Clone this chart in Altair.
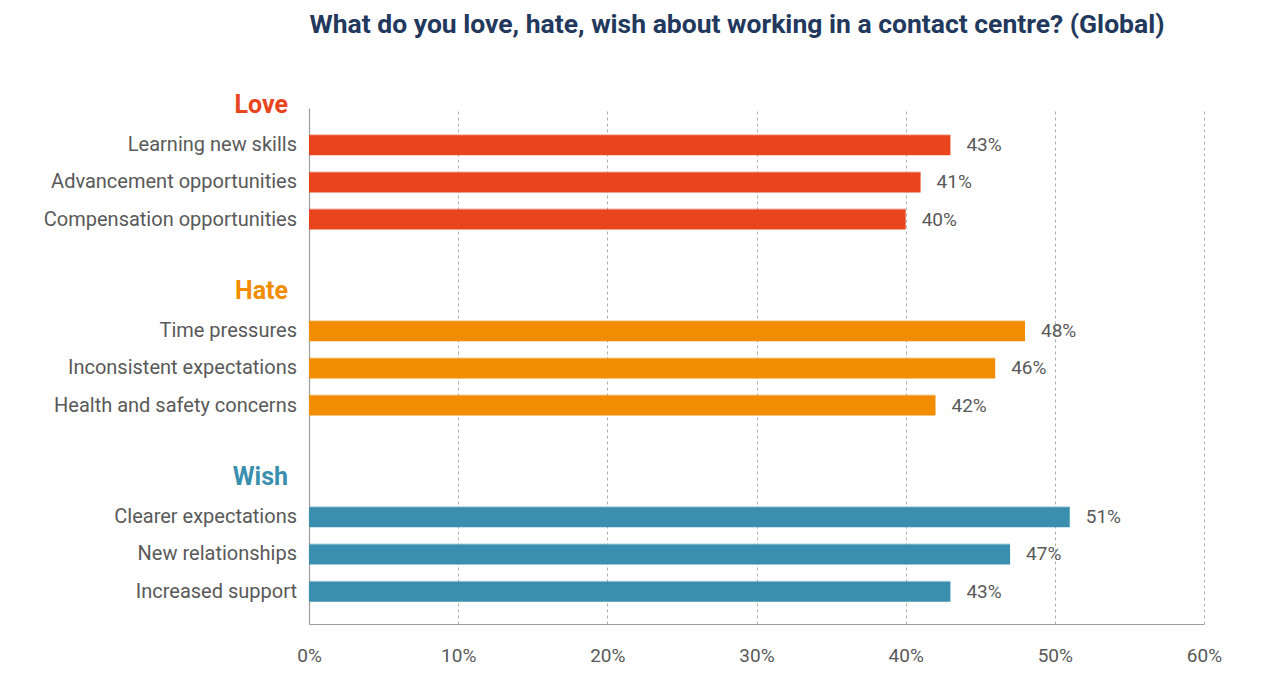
import altair as alt
import pandas as pd

# Survey answers per group (share of respondents)
groups = ["Love", "Hate", "Wish"]
group_colors = ["#e8441e", "#f28c00", "#3b8fae"]
love_items = ["Learning new skills", "Advancement opportunities", "Compensation opportunities"]
love_values = [43, 41, 40]
hate_items = ["Time pressures", "Inconsistent expectations", "Health and safety concerns"]
hate_values = [48, 46, 42]
wish_items = ["Clearer expectations", "New relationships", "Increased support"]
wish_values = [51, 47, 43]
x_ticks = [0, 10, 20, 30, 40, 50, 60]

TITLE = "What do you love, hate, wish about working in a contact centre? (Global)"
FONT = "Roboto"
GREY = "#595959"

# Build row layout: header row, three item rows, then a blank spacer row
item_rows, header_rows = [], []
row = 0
for g, color, items, vals in zip(
    groups, group_colors,
    [love_items, hate_items, wish_items],
    [love_values, hate_values, wish_values],
):
    header_rows.append({"group": g, "row": row, "color": color})
    row += 1
    for it, v in zip(items, vals):
        item_rows.append({"group": g, "item": it, "value": v / 100,
                          "label": f"{v}%", "row": row, "color": color})
        row += 1
    row += 1

items_df = pd.DataFrame(item_rows)
headers_df = pd.DataFrame(header_rows)

W, H = 895, 516
y_scale = alt.Scale(domain=[0, 13.87], reverse=True, nice=False, zero=False, padding=0)
x_scale = alt.Scale(domain=[0, 0.6], nice=False)

y_enc = alt.Y("row:Q", scale=y_scale,
              axis=alt.Axis(labels=False, ticks=False, grid=False, title=None,
                            domainColor="#9e9e9e", domainWidth=1.2))
x_enc = alt.X("value:Q", scale=x_scale,
              axis=alt.Axis(values=[t / 100 for t in x_ticks], format=".0%",
                            title=None, ticks=False, grid=True,
                            gridDash=[3, 3], gridColor="#b0b0b0", gridWidth=1,
                            domainColor="#9e9e9e", domainWidth=1.2,
                            labelFont=FONT, labelFontSize=19, labelColor=GREY,
                            labelPadding=22, labelFlush=False))

base = alt.Chart(items_df)

bars = base.mark_bar(orient="horizontal", size=20).encode(
    x=x_enc, x2=alt.datum(0), y=y_enc,
    color=alt.Color("color:N", scale=None),
)

# light streak along the top edge of each stroke
streak = base.mark_bar(orient="horizontal", size=2, yOffset=-10, opacity=0.4).encode(
    x="value:Q", x2=alt.datum(0), y="row:Q",
    color=alt.Color("color:N", scale=None),
)

values = base.mark_text(align="left", baseline="middle", dx=16,
                        font=FONT, fontSize=19, color=GREY).encode(
    x="value:Q", y="row:Q", text="label:N")

cats = base.mark_text(align="right", baseline="middle",
                      font=FONT, fontSize=20, color=GREY).encode(
    x=alt.value(-12), y="row:Q", text="item:N")

heads = alt.Chart(headers_df).mark_text(
    align="right", baseline="middle", dy=-3,
    font=FONT, fontSize=25, fontWeight="bold").encode(
    x=alt.value(-21), y="row:Q", text="group:N",
    color=alt.Color("color:N", scale=None))

title = alt.Chart(pd.DataFrame({"t": [TITLE]})).mark_text(
    align="center", baseline="middle", font=FONT, fontSize=26.5,
    fontWeight="bold", color="#22385c").encode(
    x=alt.value(428), y=alt.value(-83), text="t:N")

chart = alt.layer(bars, streak, values, cats, heads, title).properties(
    width=W, height=H,
    autosize=alt.AutoSizeParams(type="none"),
    padding={"left": 309, "top": 108, "right": 60, "bottom": 66},
).configure_view(stroke=None)

chart.save("out.html", embed_options={"renderer": "svg", "actions": False})
